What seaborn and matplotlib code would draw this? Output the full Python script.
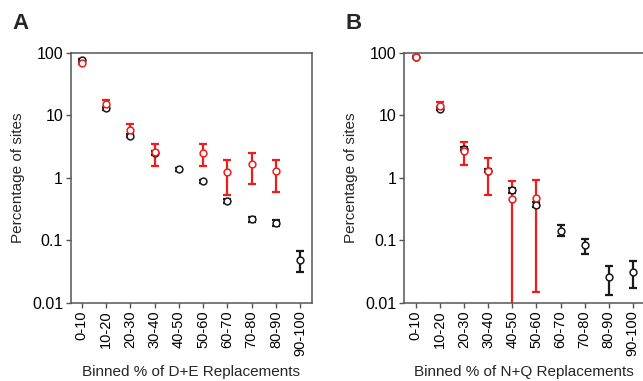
import numpy as np
import pandas as pd
import seaborn as sns
import matplotlib.pyplot as plt

# bins shared by both panels
bins = ["0-10", "10-20", "20-30", "30-40", "40-50",
        "50-60", "60-70", "70-80", "80-90", "90-100"]

# Panel A: D+E replacements
a_black = [76, 13, 4.75, 2.5, 1.38, 0.88, 0.42, 0.22, 0.19, 0.048]
a_black_lo = [72, 12.3, 4.5, 2.35, 1.3, 0.83, 0.39, 0.195, 0.17, 0.031]
a_black_hi = [80, 13.8, 5.0, 2.65, 1.46, 0.93, 0.45, 0.24, 0.21, 0.067]
a_red = [70, 15, 5.9, 2.56, np.nan, 2.5, 1.22, 1.68, 1.27, np.nan]
a_red_lo = [67, 12.8, 4.6, 1.52, np.nan, 1.52, 0.535, 0.80, 0.59, np.nan]
a_red_hi = [73, 17.5, 7.4, 3.52, np.nan, 3.5, 1.93, 2.5, 1.95, np.nan]

# Panel B: N+Q replacements
b_black = [86, 12.7, 2.93, 1.3, 0.63, 0.37, 0.143, 0.084, 0.026, 0.031]
b_black_lo = [82, 12.0, 2.75, 1.22, 0.58, 0.34, 0.115, 0.060, 0.0133, 0.017]
b_black_hi = [90, 13.5, 3.1, 1.4, 0.68, 0.41, 0.177, 0.106, 0.039, 0.047]
b_red = [86, 14.4, 2.65, 1.3, 0.457, 0.474, np.nan, np.nan, np.nan, np.nan]
b_red_lo = [83, 12.5, 1.58, 0.535, 0.0001, 0.015, np.nan, np.nan, np.nan, np.nan]
b_red_hi = [89, 16.6, 3.7, 2.08, 0.875, 0.93, np.nan, np.nan, np.nan, np.nan]

sns.set_style("ticks")
plt.rcParams['font.family'] = ['Liberation Sans', 'DejaVu Sans']

RED = "#f01c1c"
BLACK = "#1a1a1a"
SPINE = "#555555"

fig = plt.figure(figsize=(6.43, 3.81), dpi=100)
axA = fig.add_axes([0.110, 0.2055, 0.375, 0.6555])
axB = fig.add_axes([0.628, 0.2055, 0.375, 0.6555])


def draw_series(ax, vals, lo, hi, color):
    df = pd.DataFrame({"x": np.arange(len(bins)), "y": vals, "lo": lo, "hi": hi}).dropna()
    ax.errorbar(df["x"], df["y"], yerr=[df["y"] - df["lo"], df["hi"] - df["y"]],
                fmt="none", ecolor=color, elinewidth=1.6, capsize=3.2, capthick=1.6)
    sns.scatterplot(data=df, x="x", y="y", ax=ax, marker="o", s=24,
                    facecolor="white", edgecolor=color, linewidth=1.1, zorder=3)


def style_axes(ax, xlabel, letter):
    ax.set_yscale("log")
    ax.set_ylim(0.01, 100)
    ax.set_xlim(-0.45, 9.48)
    ax.set_yticks([0.01, 0.1, 1, 10, 100])
    ax.set_yticklabels(["0.01", "0.1", "1", "10", "100"])
    ax.minorticks_off()
    ax.set_xticks(np.arange(len(bins)))
    ax.set_xticklabels(bins, rotation=90)
    ax.tick_params(axis="both", length=3.5, width=1.0, color=SPINE, pad=2,
                   labelcolor="black")
    ax.tick_params(axis="x", labelsize=10.5)
    ax.tick_params(axis="y", labelsize=11.5)
    for sp in ax.spines.values():
        sp.set_visible(True)
        sp.set_color(SPINE)
        sp.set_linewidth(1.1)
    ax.set_xlabel(xlabel, fontsize=11, labelpad=6)
    ax.set_ylabel("Percentage of sites", fontsize=11, labelpad=5)
    ax.text(-0.24, 1.118, letter, transform=ax.transAxes, fontsize=16,
            fontweight="bold", ha="left", va="center")


draw_series(axA, a_black, a_black_lo, a_black_hi, BLACK)
draw_series(axA, a_red, a_red_lo, a_red_hi, RED)
style_axes(axA, "Binned % of D+E Replacements", "A")

draw_series(axB, b_black, b_black_lo, b_black_hi, BLACK)
draw_series(axB, b_red, b_red_lo, b_red_hi, RED)
style_axes(axB, "Binned % of N+Q Replacements", "B")
axB.set_xlim(-0.5, 9.5)

fig.savefig("out.png", dpi=100)
